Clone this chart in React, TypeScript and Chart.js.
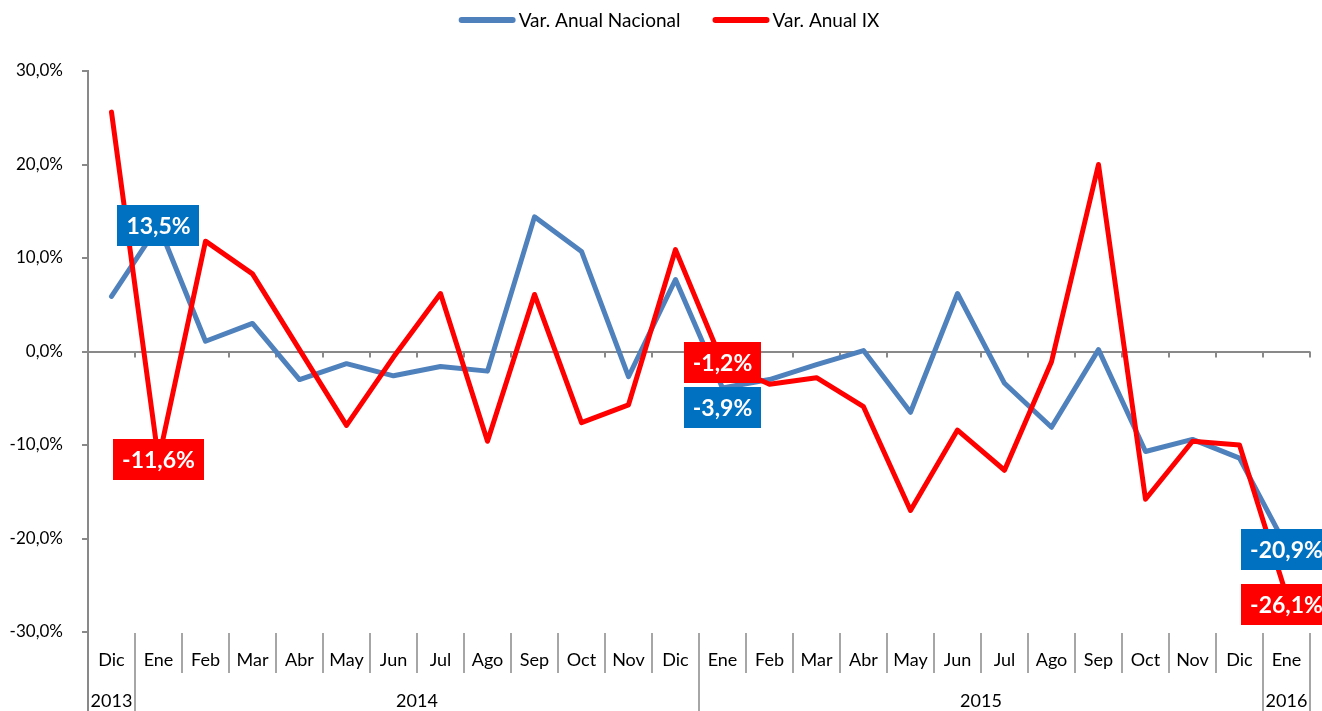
import React, { useEffect, useRef } from 'react';
import { Chart, registerables } from 'chart.js';

Chart.register(...registerables);

// ---------- data ----------
const categories = [
  'Dic',
  'Ene', 'Feb', 'Mar', 'Abr', 'May', 'Jun', 'Jul', 'Ago', 'Sep', 'Oct', 'Nov', 'Dic',
  'Ene', 'Feb', 'Mar', 'Abr', 'May', 'Jun', 'Jul', 'Ago', 'Sep', 'Oct', 'Nov', 'Dic',
  'Ene',
];
const yearLabels = ['2013', '2014', '2015', '2016'];
const yearSpans = [1, 12, 12, 1];

const seriesNames = ['Var. Anual Nacional', 'Var. Anual IX'];

const nacional = [
  5.9,
  13.5, 1.1, 3.0, -3.0, -1.3, -2.6, -1.6, -2.1, 14.4, 10.7, -2.7, 7.7,
  -3.9, -3.0, -1.4, 0.1, -6.5, 6.2, -3.4, -8.1, 0.2, -10.7, -9.4, -11.4,
  -20.9,
];
const regionIX = [
  25.6,
  -11.6, 11.8, 8.3, 0.2, -7.9, -0.6, 6.2, -9.6, 6.1, -7.6, -5.7, 10.9,
  -1.2, -3.5, -2.8, -5.9, -17.0, -8.4, -12.7, -1.1, 20.0, -15.8, -9.6, -10.0,
  -26.1,
];

const yMin = -30;
const yMax = 30;
const yStep = 10;

// which points carry a highlighted value label (series index, category index)
const highlightedPoints = [
  [0, 1], [1, 1],
  [0, 13], [1, 13],
  [0, 25], [1, 25],
];

// ---------- styles ----------
const FONT = 'Lato, "Open Sans", "DejaVu Sans", sans-serif';
const AXIS_GRAY = '#898989';
const SEP_GRAY = '#a6a6a6';
const lineColors = ['#4F81BD', '#FF0000'];
const labelBoxColors = ['#0070C0', '#FF0000'];
const labelShift: Record<string, number> = { '0-13': 20, '0-25': 3, '1-25': 9 };

const fmt = (v: number) => v.toFixed(1).replace('.', ',') + '%';

// ---------- plugins ----------
const legendPlugin = {
  id: 'excelLegend',
  afterDraw(chart: any) {
    const ctx = chart.ctx;
    const ds = chart.data.datasets;
    ctx.save();
    ctx.font = `19px ${FONT}`;
    const lineLen = 57;
    const gap = 3;
    const itemGap = 32;
    const widths = ds.map((d: any) => lineLen + gap + ctx.measureText(d.label).width);
    const total = widths.reduce((a: number, b: number) => a + b, 0) + itemGap * (ds.length - 1);
    let x = 669 - total / 2;
    const y = 20;
    ds.forEach((d: any, i: number) => {
      ctx.strokeStyle = d.borderColor;
      ctx.lineWidth = 6;
      ctx.lineCap = 'round';
      ctx.beginPath();
      ctx.moveTo(x + 3, y);
      ctx.lineTo(x + lineLen - 3, y);
      ctx.stroke();
      ctx.fillStyle = '#000';
      ctx.textAlign = 'left';
      ctx.textBaseline = 'middle';
      ctx.fillText(d.label, x + lineLen + gap, y + 1);
      x += widths[i] + itemGap;
    });
    ctx.restore();
  },
};

const groupedAxisPlugin = {
  id: 'groupedXAxis',
  beforeDatasetsDraw(chart: any) {
    const xs = chart.scales.x;
    const ys = chart.scales.y;
    const ca = chart.chartArea;
    const ctx = chart.ctx;
    const n = categories.length;
    const y0 = ys.getPixelForValue(0);
    const bx = (i: number) => Math.round(xs.getPixelForValue(i - 0.5));

    ctx.save();
    // small tick marks on the zero line at category boundaries
    ctx.strokeStyle = AXIS_GRAY;
    ctx.lineWidth = 2;
    for (let i = 1; i <= n; i++) {
      ctx.beginPath();
      ctx.moveTo(bx(i), y0);
      ctx.lineTo(bx(i), y0 + 6);
      ctx.stroke();
    }

    // year boundaries
    const yearBounds = new Set<number>([0]);
    let acc = 0;
    yearSpans.forEach((s) => { acc += s; yearBounds.add(acc); });

    // separators below the plot
    for (let i = 0; i <= n; i++) {
      const isYear = yearBounds.has(i);
      ctx.strokeStyle = i === 0 ? AXIS_GRAY : SEP_GRAY;
      ctx.beginPath();
      ctx.moveTo(bx(i), i === 0 ? ca.bottom : ca.bottom + 1);
      ctx.lineTo(bx(i), isYear ? chart.height : ca.bottom + 41);
      ctx.stroke();
    }

    // month labels
    ctx.fillStyle = '#000';
    ctx.font = `18px ${FONT}`;
    ctx.textAlign = 'center';
    ctx.textBaseline = 'middle';
    categories.forEach((c, i) => {
      ctx.fillText(c, xs.getPixelForValue(i), ca.bottom + 28);
    });

    // year labels
    let start = 0;
    yearLabels.forEach((yl, k) => {
      const end = start + yearSpans[k];
      const cx = (xs.getPixelForValue(start - 0.5) + xs.getPixelForValue(end - 0.5)) / 2;
      ctx.fillText(yl, cx, ca.bottom + 69);
      start = end;
    });
    ctx.restore();
  },
};

const valueLabelPlugin = {
  id: 'valueLabels',
  afterDatasetsDraw(chart: any) {
    const ctx = chart.ctx;
    ctx.save();
    ctx.font = `bold 23px ${FONT}`;
    highlightedPoints.forEach(([s, idx]) => {
      const pt = chart.getDatasetMeta(s).data[idx];
      const value = chart.data.datasets[s].data[idx] as number;
      const text = fmt(value);
      const w = ctx.measureText(text).width + 18;
      const h = 41;
      const cx = pt.x;
      const cy = pt.y + (labelShift[`${s}-${idx}`] || 0);
      ctx.fillStyle = labelBoxColors[s];
      ctx.fillRect(Math.round(cx - w / 2), Math.round(cy - h / 2), Math.round(w), h);
      ctx.fillStyle = '#fff';
      ctx.textAlign = 'center';
      ctx.textBaseline = 'middle';
      ctx.fillText(text, cx, cy + 1);
    });
    ctx.restore();
  },
};

export default function App() {
  const canvasRef = useRef<HTMLCanvasElement | null>(null);

  useEffect(() => {
    document.body.style.margin = '0';
    const canvas = canvasRef.current;
    if (!canvas) return;
    const chart = new Chart(canvas, {
      type: 'line',
      data: {
        labels: categories,
        datasets: [
          {
            label: seriesNames[0],
            data: nacional,
            borderColor: lineColors[0],
            backgroundColor: lineColors[0],
            borderWidth: 5,
            pointRadius: 0,
            pointHoverRadius: 0,
            tension: 0,
            borderJoinStyle: 'round',
            borderCapStyle: 'round',
            order: 1,
          },
          {
            label: seriesNames[1],
            data: regionIX,
            borderColor: lineColors[1],
            backgroundColor: lineColors[1],
            borderWidth: 5,
            pointRadius: 0,
            pointHoverRadius: 0,
            tension: 0,
            borderJoinStyle: 'round',
            borderCapStyle: 'round',
            order: 0,
          },
        ],
      },
      options: {
        responsive: false,
        animation: false,
        devicePixelRatio: 1,
        layout: { padding: { top: 71, right: 12, bottom: 79, left: 0 } },
        plugins: {
          legend: { display: false },
          tooltip: { enabled: false },
        },
        scales: {
          x: {
            type: 'category',
            display: false,
            offset: true,
          },
          y: {
            min: yMin,
            max: yMax,
            afterFit: (scale: any) => { scale.width = 88; },
            ticks: {
              stepSize: yStep,
              color: '#000',
              font: { family: FONT, size: 17 },
              padding: 19,
              callback: (v: any) => fmt(Number(v)),
            },
            grid: {
              drawOnChartArea: true,
              drawTicks: true,
              tickLength: 6,
              lineWidth: 2,
              color: (c: any) => (c.tick && c.tick.value === 0 ? AXIS_GRAY : 'rgba(0,0,0,0)'),
              tickColor: AXIS_GRAY,
            },
            border: { display: true, color: AXIS_GRAY, width: 2 },
          },
        },
      },
      plugins: [groupedAxisPlugin, valueLabelPlugin, legendPlugin],
    });
    return () => chart.destroy();
  }, []);

  return (
    <div style={{ width: 1322, height: 711, overflow: 'hidden' }}>
      <canvas ref={canvasRef} width={1322} height={711} style={{ display: 'block' }} />
    </div>
  );
}
